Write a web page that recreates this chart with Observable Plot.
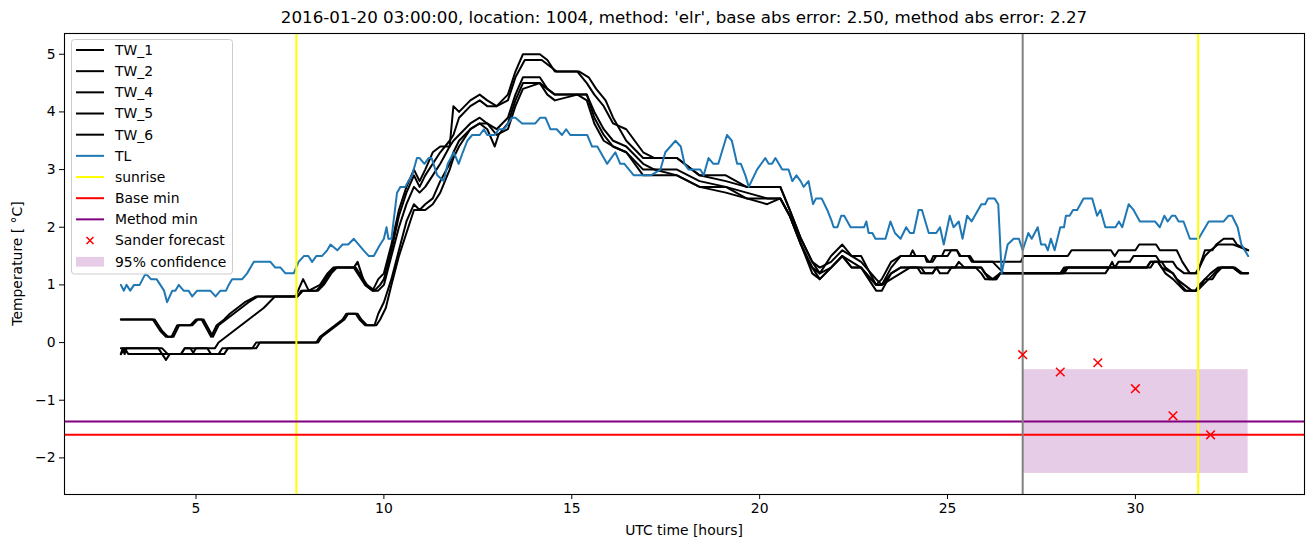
<!DOCTYPE html>
<html><head><meta charset="utf-8">
<script src="https://cdn.jsdelivr.net/npm/d3@7"></script>
<script src="https://cdn.jsdelivr.net/npm/@observablehq/plot@0.6"></script>
<style>body{margin:0;background:#fff;} #chart svg{font-family:"DejaVu Sans",sans-serif;}</style>
</head><body><div id="chart"></div>
<script>
const titleText = "2016-01-20 03:00:00, location: 1004, method: 'elr', base abs error: 2.50, method abs error: 2.27";
const xLabel = "UTC time [hours]";
const yLabel = "Temperature [ °C]";
const xTicks = [5, 10, 15, 20, 25, 30];
const yTicks = [-2, -1, 0, 1, 2, 3, 4, 5];

const tw1 = [[3.0,0.4],[3.85,0.4],[4.05,0.2],[4.2,0.1],[4.35,0.1],[4.5,0.3],[4.85,0.3],[5.0,0.4],[5.15,0.4],[5.4,0.1],[5.55,0.3],[5.75,0.4],[5.9,0.5],[6.1,0.6],[6.3,0.7],[6.6,0.8],[7.65,0.8],[7.85,1.1],[8.0,0.9],[8.3,1.0],[8.5,1.2],[8.65,1.3],[9.2,1.3],[9.3,1.4],[9.5,1.0],[9.7,0.9],[9.85,1.1],[10.0,1.2],[10.2,1.7],[10.4,2.3],[10.6,2.7],[10.8,3.0],[10.95,2.8],[11.1,3.0],[11.3,3.3],[11.5,3.4],[11.75,3.4],[11.85,4.1],[12.0,4.0],[12.3,4.2],[12.55,4.3],[12.75,4.2],[13.0,4.1],[13.3,4.3],[13.5,4.7],[13.7,5.0],[14.15,5.0],[14.35,4.9],[14.55,4.7],[15.15,4.7],[15.4,4.5],[15.6,4.3],[15.85,4.1],[16.1,3.8],[16.45,3.7],[16.9,3.3],[17.2,3.2],[17.8,3.2],[18.4,2.9],[19.1,2.9],[19.65,2.7],[20.2,2.7],[20.55,2.7],[20.8,2.3],[21.1,1.8],[21.4,1.4],[21.6,1.2],[21.9,1.5],[22.2,1.7],[22.45,1.5],[22.7,1.5],[23.1,1.0],[23.25,1.1],[23.5,1.4],[23.75,1.5],[24.0,1.5],[24.07,1.6],[24.15,1.5],[24.4,1.5],[24.45,1.4],[24.55,1.4],[24.62,1.5],[24.85,1.5],[24.92,1.6],[25.25,1.6],[25.32,1.5],[25.55,1.5],[25.65,1.4],[26.95,1.4],[27.02,1.5],[28.2,1.5],[28.3,1.6],[29.35,1.6],[29.45,1.5],[29.55,1.6],[30.0,1.6],[30.1,1.7],[30.55,1.7],[30.65,1.6],[31.1,1.6],[31.25,1.4],[31.35,1.3],[31.45,1.2],[31.65,1.2],[31.75,1.4],[31.85,1.6],[32.05,1.6],[32.15,1.7],[32.35,1.8],[32.6,1.8],[32.7,1.7],[33.0,1.6]];
const tw2 = [[3.0,0.4],[3.9,0.4],[4.1,0.2],[4.25,0.1],[4.4,0.1],[4.55,0.3],[4.9,0.3],[5.05,0.4],[5.2,0.4],[5.45,0.1],[5.6,0.3],[5.8,0.4],[6.0,0.5],[6.2,0.6],[6.4,0.7],[6.65,0.8],[7.7,0.8],[7.8,0.9],[8.2,0.9],[8.35,1.0],[8.55,1.2],[8.7,1.3],[9.25,1.3],[9.35,1.2],[9.55,1.0],[9.75,0.9],[9.9,1.0],[10.0,1.1],[10.2,1.6],[10.4,2.2],[10.6,2.6],[10.8,2.9],[10.95,2.7],[11.1,2.9],[11.3,3.1],[11.5,3.3],[11.75,3.5],[11.85,3.6],[12.0,3.9],[12.3,4.1],[12.55,4.2],[12.75,4.1],[13.0,4.1],[13.3,4.2],[13.5,4.6],[13.75,4.9],[14.2,4.9],[14.4,4.8],[14.6,4.7],[15.2,4.7],[15.45,4.6],[15.65,4.4],[15.9,4.2],[16.1,3.9],[16.45,3.5],[16.9,3.2],[17.2,3.2],[17.8,3.2],[18.4,2.9],[19.1,2.8],[19.65,2.7],[20.2,2.7],[20.55,2.7],[20.8,2.3],[21.1,1.8],[21.4,1.4],[21.6,1.3],[21.9,1.4],[22.2,1.6],[22.45,1.5],[22.7,1.4],[23.1,1.1],[23.25,1.0],[23.5,1.3],[23.75,1.5],[24.4,1.5],[24.5,1.4],[24.6,1.4],[24.7,1.5],[25.0,1.5],[25.1,1.6],[25.25,1.6],[25.35,1.5],[25.6,1.5],[25.7,1.4],[26.2,1.4],[26.35,1.3],[26.5,1.2],[28.1,1.2],[28.2,1.3],[29.3,1.3],[29.38,1.4],[29.45,1.3],[29.55,1.4],[29.85,1.4],[29.95,1.5],[30.55,1.5],[30.65,1.4],[31.0,1.4],[31.1,1.3],[31.3,1.2],[31.6,1.2],[31.7,1.3],[31.85,1.5],[32.0,1.6],[32.2,1.7],[32.6,1.7],[33.0,1.6]];
const tw4 = [[3.0,-0.2],[3.05,-0.1],[3.1,-0.2],[3.15,-0.1],[4.1,-0.1],[4.25,-0.2],[4.9,-0.2],[5.0,-0.1],[5.5,-0.1],[5.6,0.0],[5.8,0.1],[6.0,0.2],[6.2,0.3],[6.4,0.4],[6.6,0.5],[6.8,0.6],[6.95,0.7],[7.1,0.8],[7.7,0.8],[7.85,0.9],[8.25,0.9],[8.4,1.0],[8.6,1.2],[8.75,1.3],[9.2,1.3],[9.3,1.2],[9.5,1.0],[9.7,0.9],[9.85,0.9],[10.0,1.0],[10.2,1.5],[10.4,2.0],[10.6,2.4],[10.8,2.7],[10.95,2.6],[11.1,2.7],[11.3,2.9],[11.5,3.1],[11.75,3.4],[11.85,3.5],[12.0,3.6],[12.3,3.8],[12.55,3.9],[12.75,3.8],[13.0,3.7],[13.3,3.9],[13.5,4.3],[13.7,4.6],[14.15,4.6],[14.35,4.4],[14.55,4.3],[15.15,4.3],[15.4,4.3],[15.6,4.0],[15.85,3.7],[16.1,3.5],[16.45,3.4],[16.9,3.1],[17.2,3.0],[17.8,3.0],[18.4,2.8],[19.1,2.7],[19.65,2.6],[20.2,2.5],[20.55,2.5],[20.8,2.2],[21.1,1.7],[21.4,1.3],[21.6,1.1],[21.9,1.3],[22.2,1.5],[22.45,1.4],[22.7,1.3],[23.1,0.9],[23.25,0.9],[23.5,1.2],[23.75,1.3],[24.3,1.3],[24.4,1.2],[24.6,1.2],[24.7,1.3],[25.2,1.3],[25.3,1.4],[25.45,1.3],[25.75,1.3],[25.9,1.2],[26.0,1.1],[26.3,1.1],[26.4,1.2],[28.0,1.2],[28.1,1.3],[30.3,1.3],[30.4,1.4],[30.6,1.4],[30.7,1.3],[30.8,1.2],[31.0,1.1],[31.15,1.0],[31.3,0.9],[31.6,0.9],[31.75,1.0],[31.85,1.1],[32.05,1.1],[32.15,1.2],[32.3,1.3],[32.6,1.3],[32.8,1.2],[33.0,1.2]];
const tw5 = [[3.0,-0.1],[4.0,-0.1],[4.1,-0.2],[4.2,-0.3],[4.3,-0.2],[4.6,-0.2],[4.7,-0.1],[5.3,-0.1],[5.4,-0.2],[5.6,-0.2],[5.7,-0.1],[6.5,-0.1],[6.6,0.0],[8.2,0.0],[8.3,0.1],[8.5,0.2],[8.7,0.3],[8.9,0.4],[9.0,0.5],[9.25,0.5],[9.35,0.4],[9.5,0.3],[9.75,0.3],[9.85,0.5],[10.0,0.7],[10.2,1.1],[10.4,1.6],[10.6,2.1],[10.8,2.4],[10.95,2.3],[11.1,2.4],[11.3,2.5],[11.5,2.8],[11.75,3.1],[11.85,3.3],[12.0,3.5],[12.3,3.7],[12.55,3.8],[12.75,3.7],[12.95,3.4],[13.05,3.6],[13.3,3.8],[13.5,4.2],[13.7,4.5],[14.15,4.5],[14.35,4.4],[14.55,4.3],[15.15,4.3],[15.4,4.3],[15.6,3.9],[15.85,3.6],[16.1,3.4],[16.45,3.3],[16.9,3.0],[17.2,3.0],[17.8,2.9],[18.4,2.7],[19.1,2.7],[19.65,2.5],[20.2,2.5],[20.55,2.5],[20.8,2.2],[21.1,1.7],[21.4,1.3],[21.6,1.2],[21.9,1.3],[22.2,1.5],[22.45,1.3],[22.7,1.3],[23.1,1.0],[23.25,1.0],[23.5,1.2],[23.75,1.3],[24.2,1.3],[24.3,1.2],[24.6,1.2],[24.7,1.3],[25.9,1.3],[26.0,1.2],[26.1,1.1],[26.3,1.1],[26.4,1.2],[28.05,1.2],[28.15,1.3],[30.4,1.3],[30.5,1.4],[30.7,1.4],[30.8,1.3],[31.0,1.2],[31.2,1.0],[31.35,0.9],[31.65,0.9],[31.8,1.0],[31.95,1.1],[32.1,1.2],[32.25,1.3],[32.65,1.3],[32.85,1.2],[33.0,1.2]];
const tw6 = [[3.0,-0.2],[3.1,-0.1],[3.2,-0.2],[4.6,-0.2],[4.7,-0.1],[4.85,-0.1],[4.95,-0.2],[5.75,-0.2],[5.85,-0.1],[6.6,-0.1],[6.7,0.0],[8.25,0.0],[8.35,0.1],[8.55,0.2],[8.75,0.3],[8.95,0.4],[9.05,0.5],[9.3,0.5],[9.4,0.4],[9.55,0.3],[9.8,0.3],[9.9,0.4],[10.05,0.6],[10.2,1.0],[10.4,1.5],[10.6,1.9],[10.8,2.3],[10.95,2.3],[11.1,2.3],[11.3,2.4],[11.5,2.6],[11.75,3.0],[11.85,3.2],[12.0,3.4],[12.3,3.7],[12.55,3.8],[12.75,3.8],[13.0,3.6],[13.3,3.7],[13.5,4.1],[13.7,4.4],[14.15,4.5],[14.35,4.3],[14.55,4.2],[15.15,4.3],[15.4,4.2],[15.6,3.8],[15.85,3.5],[16.1,3.4],[16.45,3.3],[16.9,2.9],[17.2,2.9],[17.8,2.9],[18.4,2.7],[19.1,2.6],[19.65,2.5],[20.2,2.4],[20.55,2.5],[20.8,2.2],[21.1,1.7],[21.4,1.2],[21.6,1.1],[21.9,1.3],[22.2,1.5],[22.45,1.3],[22.7,1.3],[23.1,1.0],[23.25,1.0],[23.5,1.1],[23.75,1.2],[24.0,1.3],[24.7,1.3],[24.8,1.2],[25.0,1.2],[25.1,1.3],[25.9,1.3],[26.0,1.2],[26.2,1.1],[26.4,1.2],[29.2,1.2],[29.3,1.3],[30.3,1.3],[30.4,1.4],[30.6,1.4],[30.7,1.3],[31.0,1.2],[31.1,1.1],[31.3,1.0],[31.5,0.9],[31.6,0.9],[31.7,1.0],[31.85,1.1],[32.0,1.2],[32.2,1.3],[32.6,1.3],[32.8,1.2],[33.0,1.2]];
const tl = [[3.0,1.0],[3.08,0.9],[3.15,1.0],[3.25,0.9],[3.35,1.0],[3.5,1.0],[3.66,1.2],[3.8,1.1],[3.95,1.1],[4.05,1.0],[4.15,0.9],[4.23,0.7],[4.37,0.9],[4.45,0.9],[4.54,1.0],[4.67,0.9],[4.8,0.9],[4.9,0.8],[5.03,0.9],[5.38,0.9],[5.52,0.8],[5.65,0.9],[5.8,0.9],[5.87,1.0],[5.96,1.1],[6.23,1.1],[6.36,1.2],[6.45,1.3],[6.54,1.4],[6.98,1.4],[7.11,1.3],[7.25,1.3],[7.38,1.2],[7.6,1.2],[7.73,1.4],[7.87,1.5],[7.99,1.5],[8.09,1.4],[8.2,1.5],[8.35,1.5],[8.49,1.6],[8.58,1.7],[8.76,1.6],[8.9,1.7],[9.05,1.7],[9.2,1.8],[9.33,1.7],[9.46,1.6],[9.6,1.5],[9.73,1.5],[9.9,1.7],[10.0,1.8],[10.07,2.0],[10.12,1.8],[10.2,1.8],[10.35,2.6],[10.44,2.7],[10.57,2.7],[10.65,2.8],[10.75,2.9],[10.88,3.2],[10.95,3.2],[11.08,3.1],[11.19,3.2],[11.27,3.2],[11.42,2.9],[11.59,2.8],[11.7,3.1],[11.86,3.3],[11.99,3.1],[12.1,3.3],[12.22,3.5],[12.35,3.6],[12.55,3.6],[12.66,3.7],[12.75,3.6],[12.95,3.6],[13.06,3.7],[13.2,3.7],[13.41,3.9],[13.5,3.9],[13.68,3.8],[14.03,3.8],[14.16,3.9],[14.3,3.9],[14.43,3.7],[14.6,3.7],[14.74,3.6],[14.85,3.7],[14.96,3.6],[15.41,3.6],[15.54,3.4],[15.68,3.4],[15.94,3.1],[16.16,3.3],[16.29,3.1],[16.4,3.1],[16.65,2.9],[16.8,2.9],[17.1,2.9],[17.36,3.0],[17.49,3.3],[17.76,3.5],[17.9,3.4],[18.0,3.1],[18.11,3.0],[18.42,3.0],[18.51,2.9],[18.64,3.2],[18.77,3.1],[18.9,3.1],[19.13,3.6],[19.26,3.5],[19.4,3.1],[19.5,3.1],[19.62,2.9],[19.71,2.7],[19.93,3.0],[20.15,3.2],[20.24,3.1],[20.33,3.1],[20.42,3.2],[20.6,3.0],[20.77,3.0],[20.87,2.8],[20.98,2.9],[21.09,2.8],[21.17,2.7],[21.3,2.8],[21.42,2.4],[21.5,2.5],[21.65,2.5],[21.8,2.3],[21.92,2.1],[21.97,2.0],[22.07,2.0],[22.17,2.2],[22.25,2.2],[22.42,2.0],[22.78,2.0],[22.84,2.1],[22.9,1.9],[23.0,1.9],[23.08,1.8],[23.35,1.8],[23.48,2.1],[23.6,1.9],[23.75,1.8],[23.9,2.0],[24.0,1.9],[24.1,1.9],[24.23,2.3],[24.32,2.3],[24.5,1.9],[24.7,1.9],[24.8,2.0],[24.9,1.7],[25.06,2.2],[25.16,2.0],[25.3,2.1],[25.4,1.8],[25.52,2.2],[25.64,2.1],[25.9,2.4],[26.0,2.4],[26.08,2.5],[26.25,2.5],[26.35,2.4],[26.44,1.2],[26.6,1.7],[26.76,1.8],[26.9,1.8],[27.0,1.6],[27.15,1.9],[27.24,1.8],[27.4,2.0],[27.49,1.7],[27.6,1.7],[27.67,1.6],[27.75,1.8],[27.85,1.6],[28.0,2.0],[28.1,2.0],[28.15,2.2],[28.25,2.2],[28.34,2.3],[28.45,2.3],[28.62,2.5],[28.85,2.5],[28.98,2.2],[29.07,2.3],[29.2,2.0],[29.47,2.0],[29.56,2.1],[29.65,2.0],[29.82,2.4],[29.95,2.3],[30.12,2.1],[30.52,2.1],[30.65,2.0],[30.77,2.2],[30.86,2.1],[30.97,2.2],[31.06,2.2],[31.15,2.1],[31.28,2.1],[31.45,1.8],[31.68,1.8],[31.77,1.9],[31.95,2.1],[32.35,2.1],[32.48,2.2],[32.57,2.2],[32.72,2.0],[32.82,1.7],[33.0,1.5]];

const sunriseHours = [7.67, 31.67];
const forecastStartHour = [27];
const baseMin = [-1.6];
const methodMin = [-1.37];
const forecastHours = [27, 28, 29, 30, 31, 32];
const forecastValues = [-0.21, -0.51, -0.35, -0.80, -1.27, -1.60];
const confidenceHours = [27, 33];
const confidenceLow = [-2.27, -2.27];
const confidenceHigh = [-0.47, -0.47];
const twNames = ["TW_1", "TW_2", "TW_4", "TW_5", "TW_6"];
const twSeries = [tw1, tw2, tw4, tw5, tw6];
const legendLabels = ["TW_1","TW_2","TW_4","TW_5","TW_6","TL","sunrise","Base min","Method min","Sander forecast","95% confidence"];

const twRows = twSeries.flatMap((s, i) => s.map(([h, v]) => ({name: twNames[i], h, v})));
const tlRows = tl.map(([h, v]) => ({h, v}));
const fcRows = forecastHours.map((h, i) => ({h, v: forecastValues[i]}));
const confRows = [{x1: confidenceHours[0], x2: confidenceHours[1], y1: confidenceLow[0], y2: confidenceHigh[0]}];

const W = 1313, H = 547, mL = 64, mR = 9, mT = 33, mB = 53;
const fs = 13.9;

const chart = Plot.plot({
  width: W, height: H, marginLeft: mL, marginRight: mR, marginTop: mT, marginBottom: mB,
  style: {fontFamily: "DejaVu Sans, sans-serif", fontSize: fs + "px", background: "white", color: "black", overflow: "visible"},
  x: {domain: [1.5, 34.5]},
  y: {domain: [-2.635, 5.36]},
  marks: [
    Plot.rect(confRows, {x1: "x1", x2: "x2", y1: "y1", y2: "y2", fill: "purple", fillOpacity: 0.2}),
    Plot.line(twRows, {x: "h", y: "v", z: "name", stroke: "black", strokeWidth: 2, strokeLinejoin: "round"}),
    Plot.line(tlRows, {x: "h", y: "v", stroke: "#1f77b4", strokeWidth: 2, strokeLinejoin: "round"}),
    Plot.ruleX(sunriseHours, {stroke: "#ffff00", strokeWidth: 2}),
    Plot.ruleY(baseMin, {stroke: "red", strokeWidth: 2}),
    Plot.ruleY(methodMin, {stroke: "purple", strokeWidth: 2}),
    Plot.ruleX(forecastStartHour, {stroke: "gray", strokeWidth: 2}),
    Plot.dot(fcRows, {x: "h", y: "v", symbol: "times", stroke: "red", r: 4, strokeWidth: 1.5}),
    Plot.frame({stroke: "black", strokeWidth: 1.1}),
    Plot.axisX({ticks: xTicks, tickSize: 5, tickPadding: 4, label: null, tickFormat: d => String(d)}),
    Plot.axisY({ticks: yTicks, tickSize: 5, tickPadding: 4, label: null})
  ]
});
document.getElementById("chart").appendChild(chart);

const svg = d3.select(chart);
svg.append("text").attr("x", (mL + W - mR) / 2).attr("y", 23).attr("text-anchor", "middle")
  .attr("font-size", 16.7).attr("fill", "black").text(titleText);
svg.append("text").attr("x", (mL + W - mR) / 2).attr("y", 535).attr("text-anchor", "middle")
  .attr("font-size", fs).attr("fill", "black").text(xLabel);
svg.append("text").attr("transform", `translate(22,${(mT + H - mB) / 2}) rotate(-90)`).attr("text-anchor", "middle")
  .attr("font-size", fs).attr("fill", "black").text(yLabel);

// legend
const lg = svg.append("g").attr("text-anchor", "start");
lg.append("rect").attr("x", 71.5).attr("y", 39.5).attr("width", 161).attr("height", 234.5).attr("rx", 3)
  .attr("fill", "white").attr("fill-opacity", 0.8).attr("stroke", "#cccccc").attr("stroke-width", 1);
const legendColors = ["black","black","black","black","black","#1f77b4","#ffff00","red","purple"];
legendLabels.forEach((lab, i) => {
  const cy = 50 + i * 21.17;
  if (i < 9) {
    lg.append("line").attr("x1", 76).attr("x2", 104).attr("y1", cy).attr("y2", cy)
      .attr("stroke", legendColors[i]).attr("stroke-width", 2);
  } else if (i === 9) {
    lg.append("path").attr("d", `M86.5,${cy-3.5}L93.5,${cy+3.5}M86.5,${cy+3.5}L93.5,${cy-3.5}`)
      .attr("stroke", "red").attr("stroke-width", 1.5);
  } else {
    lg.append("rect").attr("x", 76).attr("y", cy - 4.8).attr("width", 28).attr("height", 9.7)
      .attr("fill", "purple").attr("fill-opacity", 0.2);
  }
  lg.append("text").attr("x", 115).attr("y", cy).attr("dy", "0.35em").attr("font-size", fs)
    .attr("text-anchor", "start").attr("fill", "black").text(lab);
});
</script>
</body></html>
